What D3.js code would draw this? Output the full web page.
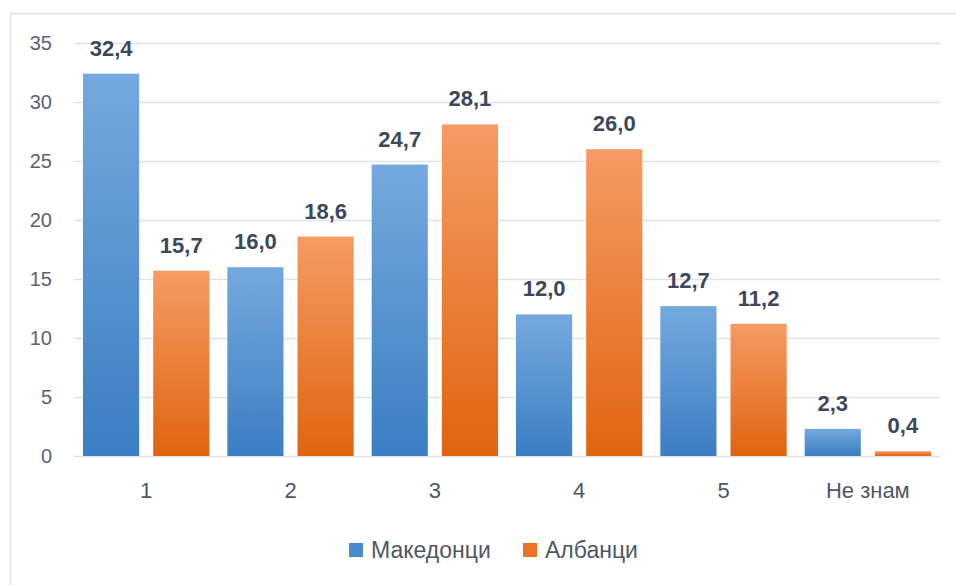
<!DOCTYPE html>
<html>
<head>
<meta charset="utf-8">
<script src="https://cdn.jsdelivr.net/npm/d3@7"></script>
<style>
	body { margin: 0; background: #fff; }
	svg { display: block; font-family: 'Liberation Sans', Arial, sans-serif; }
</style>
</head>
<body>
<div id="chart"></div>
<script>
const categories = ['1', '2', '3', '4', '5', 'Не знам']
const seriesNames = ['Македонци', 'Албанци']
const makedonci = [32.4, 16.0, 24.7, 12.0, 12.7, 2.3]
const albanci = [15.7, 18.6, 28.1, 26.0, 11.2, 0.4]
const yTicks = [0, 5, 10, 15, 20, 25, 30, 35]

const seriesValues = [makedonci, albanci]

const width = 956,
	height = 585
const margin = { top: 43, right: 16, bottom: 129, left: 74 }

const svg = d3
	.select('#chart')
	.append('svg')
	.attr('width', width)
	.attr('height', height)

// gradients for the bars
const defs = svg.append('defs')
const gradColors = [
	['#74a9de', '#3b7ec3'],
	['#f59b64', '#e0640f']
]
gradColors.forEach((c, i) => {
	const g = defs
		.append('linearGradient')
		.attr('id', 'grad' + i)
		.attr('x1', 0)
		.attr('y1', 0)
		.attr('x2', 0)
		.attr('y2', 1)
	g.append('stop').attr('offset', '0%').attr('stop-color', c[0])
	g.append('stop').attr('offset', '100%').attr('stop-color', c[1])
})
const legendColors = ['#4a8bd0', '#ec7425']

// outer frame
svg.append('path')
	.attr('d', `M10.5,${height} V13.5 H${width}`)
	.attr('fill', 'none')
	.attr('stroke', '#e3e7ed')
	.attr('stroke-width', 2)

const x0 = d3
	.scaleBand()
	.domain(categories)
	.range([margin.left, width - margin.right])

const x1 = d3
	.scaleBand()
	.domain(seriesNames)
	.range([9, x0.bandwidth() - 9])
	.paddingInner(0.2)

const y = d3
	.scaleLinear()
	.domain([0, 35])
	.range([height - margin.bottom, margin.top])

// gridlines + y labels
const yAxis = d3
	.axisLeft(y)
	.tickValues(yTicks)
	.tickSize(-(width - margin.right - margin.left))
	.tickPadding(22)

const gy = svg
	.append('g')
	.attr('transform', `translate(${margin.left},0)`)
	.call(yAxis)
gy.select('.domain').remove()
gy.selectAll('line').attr('stroke', '#dde2e9').attr('stroke-width', 1.5)
gy.selectAll('text')
	.attr('fill', '#5b6270')
	.style('font-size', '20px')

// bars
const groups = svg
	.append('g')
	.selectAll('g')
	.data(categories)
	.join('g')
	.attr('transform', d => `translate(${x0(d)},0)`)

groups
	.selectAll('rect')
	.data((d, i) => seriesNames.map((s, j) => ({ s, j, v: seriesValues[j][i] })))
	.join('rect')
	.attr('x', d => x1(d.s))
	.attr('y', d => y(d.v))
	.attr('width', x1.bandwidth())
	.attr('height', d => y(0) - y(d.v))
	.attr('fill', d => `url(#grad${d.j})`)

groups
	.selectAll('text')
	.data((d, i) => seriesNames.map((s, j) => ({ s, j, v: seriesValues[j][i] })))
	.join('text')
	.attr('x', d => x1(d.s) + x1.bandwidth() / 2)
	.attr('y', d => y(d.v) - 18)
	.attr('text-anchor', 'middle')
	.attr('fill', '#3c4859')
	.style('font-size', '22px')
	.style('font-weight', 'bold')
	.text(d => d.v.toFixed(1).replace('.', ','))

// x labels
const xAxis = d3.axisBottom(x0).tickSize(0).tickPadding(26)
const gx = svg
	.append('g')
	.attr('transform', `translate(0,${y(0)})`)
	.call(xAxis)
gx.select('.domain').remove()
gx.selectAll('text')
	.attr('fill', '#4f5766')
	.style('font-size', '22px')

// legend
const legendItems = [
	{ name: seriesNames[0], x: 349 },
	{ name: seriesNames[1], x: 523 }
]
const legend = svg
	.append('g')
	.selectAll('g')
	.data(legendItems)
	.join('g')
	.attr('transform', d => `translate(${d.x},543)`)
legend
	.append('rect')
	.attr('width', 14)
	.attr('height', 14)
	.attr('fill', (d, i) => legendColors[i])
legend
	.append('text')
	.attr('x', 22)
	.attr('y', 15)
	.attr('fill', '#4f5766')
	.style('font-size', '23px')
	.text(d => d.name)
</script>
</body>
</html>
